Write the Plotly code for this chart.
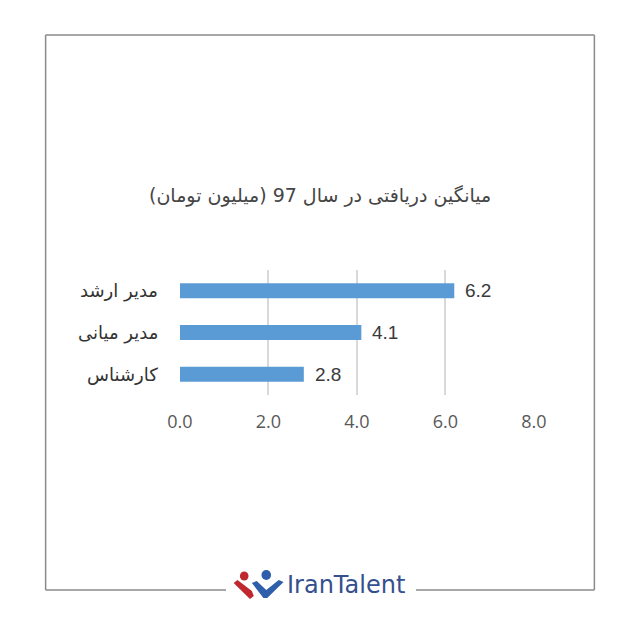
import plotly.graph_objects as go

categories = ["مدیر ارشد", "مدیر میانی", "کارشناس"]
values = [6.2, 4.1, 2.8]
tick_vals = [0, 2, 4, 6, 8]
tick_text = ["0.0", "2.0", "4.0", "6.0", "8.0"]
title_text = "میانگین دریافتی در سال 97 (میلیون تومان)"
brand = "IranTalent"

W = H = 640
def px(x):
    return x / W
def py(y):
    return 1 - y / H

fig = go.Figure()
fig.add_trace(go.Bar(
    x=values, y=categories, orientation="h",
    marker=dict(color="#5b9bd5", line=dict(width=0)),
    hoverinfo="skip",
))

# data labels
for c, v in zip(categories, values):
    fig.add_annotation(x=v, y=c, xref="x", yref="y", text=f"{v:.1f}",
                       showarrow=False, xanchor="left", xshift=9,
                       font=dict(family="Liberation Sans", size=19, color="#3a3a3a"))
# category labels
for c in categories:
    fig.add_annotation(x=px(153), y=c, xref="paper", yref="y", text=c,
                       showarrow=False, xanchor="right",
                       font=dict(family="DejaVu Sans", size=18, color="#333333"))

# title
fig.add_annotation(x=px(320), y=py(195), xref="paper", yref="paper", text=title_text,
                   showarrow=False, xanchor="center", yanchor="middle",
                   font=dict(family="DejaVu Sans", size=19, color="#454545"))

# brand text
fig.add_annotation(x=px(283), y=py(585), xref="paper", yref="paper", text=brand,
                   showarrow=False, xanchor="left", yanchor="middle",
                   font=dict(family="DejaVu Sans", size=24, color="#34508f"))

shapes = []
fc = "#8a8a8a"
# frame
shapes.append(dict(type="line", xref="paper", yref="paper", x0=px(34), y0=py(35), x1=px(606), y1=py(35), line=dict(color=fc, width=1.5)))
shapes.append(dict(type="line", xref="paper", yref="paper", x0=px(34), y0=py(35), x1=px(34), y1=py(590), line=dict(color=fc, width=1.5)))
shapes.append(dict(type="line", xref="paper", yref="paper", x0=px(606), y0=py(35), x1=px(606), y1=py(590), line=dict(color=fc, width=1.5)))
shapes.append(dict(type="line", xref="paper", yref="paper", x0=px(34), y0=py(590), x1=px(222), y1=py(590), line=dict(color=fc, width=1.5)))
shapes.append(dict(type="line", xref="paper", yref="paper", x0=px(420), y0=py(590), x1=px(606), y1=py(590), line=dict(color=fc, width=1.5)))

# logo icon
red = "#c0282f"
blue = "#2f5faa"
shapes.append(dict(type="circle", xref="paper", yref="paper",
                   x0=px(236.5), x1=px(245.5), y0=py(571.5), y1=py(580.5),
                   fillcolor=red, line=dict(width=0)))
shapes.append(dict(type="circle", xref="paper", yref="paper",
                   x0=px(259), x1=px(269), y0=py(570), y1=py(580),
                   fillcolor=blue, line=dict(width=0)))
def path(pts):
    s = "M " + " L ".join(f"{px(x)},{py(y)}" for x, y in pts) + " Z"
    return s
shapes.append(dict(type="path", xref="paper", yref="paper",
                   path=path([(230, 583), (234, 580), (249, 591), (251, 596), (247, 599)]),
                   fillcolor=red, line=dict(width=0)))
shapes.append(dict(type="path", xref="paper", yref="paper",
                   path=path([(249, 583), (254, 581), (264, 590), (277, 580), (282, 582), (265, 598), (261, 598)]),
                   fillcolor=blue, line=dict(width=0)))

fig.update_layout(
    width=W, height=H, autosize=False,
    margin=dict(l=0, r=0, t=0, b=0),
    paper_bgcolor="white", plot_bgcolor="white",
    showlegend=False,
    bargap=0.64,
    shapes=shapes,
    xaxis=dict(domain=[px(174), px(543)], range=[0, 8], tickvals=tick_vals, ticktext=tick_text,
               showgrid=True, gridcolor="#d9d9d9", gridwidth=1.5, zeroline=False,
               showline=False, ticks="", ticklabelstandoff=14,
               tickfont=dict(family="Open Sans", size=18, color="#595959"), fixedrange=True),
    yaxis=dict(domain=[py(395), py(270)], categoryorder="array", categoryarray=categories,
               autorange="reversed", showticklabels=False, showgrid=False, zeroline=False,
               showline=False, ticks="", fixedrange=True),
)

fig.write_html("out.html", config={"responsive": False, "displayModeBar": False},
               post_script="document.body.style.margin='0';document.body.style.overflow='hidden';")
